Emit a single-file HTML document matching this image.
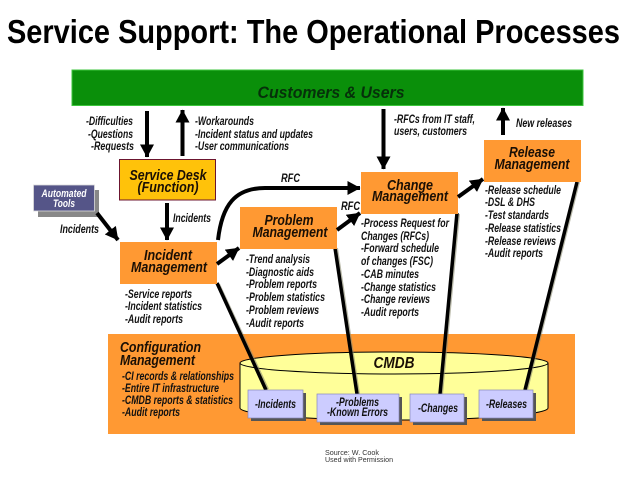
<!DOCTYPE html>
<html><head><meta charset="utf-8"><style>
html,body{margin:0;padding:0;background:#fff;width:638px;height:479px;overflow:hidden}
svg{display:block}
text{font-family:"Liberation Sans",sans-serif;fill:#000}
.t{font-weight:bold;font-style:italic;font-size:11.5px;fill:#111}
.h{font-weight:bold;font-style:italic;font-size:14.5px;text-anchor:middle;fill:#1a0f05}
</style></head><body>
<svg width="638" height="479" viewBox="0 0 638 479" xmlns="http://www.w3.org/2000/svg">
<defs>
<marker id="a" markerUnits="userSpaceOnUse" markerWidth="14" markerHeight="14" refX="12.5" refY="7" orient="auto"><path d="M0 0L13 7L0 14z" fill="#000"/></marker>
</defs>
<text x="7" y="43" font-size="33" font-weight="bold" textLength="613" lengthAdjust="spacingAndGlyphs">Service Support: The Operational Processes</text>
<rect x="72" y="70" width="511" height="35.500" fill="#0a8f0a" stroke="#3cc63c" stroke-width="1"/>
<text class="h" x="331" y="98" textLength="147" lengthAdjust="spacingAndGlyphs" style="font-size:17px;fill:#06300a">Customers &amp; Users</text>

<!-- config panel -->
<rect x="108" y="334" width="467" height="100" fill="#ff9933"/>
<path d="M240 363V408C240 414 300 420 394 420C488 420 548 414 548 408V363" fill="#ffff99" stroke="#000" stroke-width="1"/>
<ellipse cx="394" cy="363" rx="154" ry="11" fill="#ffff99" stroke="#000" stroke-width="1"/>
<text class="h" x="394" y="368" textLength="41" lengthAdjust="spacingAndGlyphs" style="font-size:16px">CMDB</text>

<!-- connector shadows -->
<g stroke="#8a8a70" stroke-width="2" fill="none" opacity=".6">
<path d="M219 284L268 389"/><path d="M337 248L359 394"/><path d="M459 214L442 394"/><path d="M579 182L527 390"/>
</g>
<g stroke="#000" stroke-width="3.500" fill="none">
<path d="M217 283L266 390"/><path d="M335 248L357 394"/><path d="M457 213L440 394"/><path d="M577 182L525 390"/>
</g>

<!-- db boxes -->
<g fill="#555">
<rect x="251" y="393" width="55" height="28"/><rect x="320" y="397" width="82" height="28"/>
<rect x="413" y="397" width="54" height="28"/><rect x="482" y="393" width="54" height="28"/>
</g>
<g fill="#ccccff" stroke="#8888bb" stroke-width=".7">
<rect x="248" y="390" width="55" height="28"/><rect x="317" y="394" width="82" height="28"/>
<rect x="410" y="394" width="54" height="28"/><rect x="479" y="390" width="54" height="28"/>
</g>
<g class="x">
<text class="t" x="255" y="408" textLength="41" lengthAdjust="spacingAndGlyphs">-Incidents</text>
<text class="t" x="336" y="406" textLength="43" lengthAdjust="spacingAndGlyphs">-Problems</text>
<text class="t" x="327" y="416" textLength="61" lengthAdjust="spacingAndGlyphs">-Known Errors</text>
<text class="t" x="418" y="412" textLength="40" lengthAdjust="spacingAndGlyphs">-Changes</text>
<text class="t" x="486" y="408" textLength="41" lengthAdjust="spacingAndGlyphs">-Releases</text>
</g>

<!-- automated tools -->
<rect x="38" y="190" width="61" height="27" fill="#888"/>
<rect x="33.500" y="185" width="61" height="26" fill="#555588" stroke="#ddd" stroke-width=".8"/>
<text class="t" x="64" y="197" text-anchor="middle" textLength="45" lengthAdjust="spacingAndGlyphs" style="fill:#fff;font-size:11px">Automated</text>
<text class="t" x="64" y="207" text-anchor="middle" textLength="22" lengthAdjust="spacingAndGlyphs" style="fill:#fff;font-size:11px">Tools</text>

<!-- process boxes -->
<rect x="119.500" y="159.500" width="96" height="40.500" fill="#ffc20a" stroke="#6b1530" stroke-width="1"/>
<text class="h" x="168" y="180" textLength="77" lengthAdjust="spacingAndGlyphs">Service Desk</text>
<text class="h" x="168" y="192" textLength="61" lengthAdjust="spacingAndGlyphs">(Function)</text>
<g fill="#ff9933">
<rect x="120" y="242" width="97" height="42"/><rect x="240" y="207" width="97" height="42"/>
<rect x="361" y="172" width="97" height="42"/><rect x="484" y="140" width="97" height="42"/>
</g>
<text class="h" x="168" y="260" textLength="48" lengthAdjust="spacingAndGlyphs">Incident</text>
<text class="h" x="169" y="272" textLength="76" lengthAdjust="spacingAndGlyphs">Management</text>
<text class="h" x="289" y="225" textLength="49" lengthAdjust="spacingAndGlyphs">Problem</text>
<text class="h" x="290" y="237" textLength="75" lengthAdjust="spacingAndGlyphs">Management</text>
<text class="h" x="410" y="190" textLength="46" lengthAdjust="spacingAndGlyphs">Change</text>
<text class="h" x="410" y="201" textLength="76" lengthAdjust="spacingAndGlyphs">Management</text>
<text class="h" x="532" y="157" textLength="46" lengthAdjust="spacingAndGlyphs">Release</text>
<text class="h" x="532" y="169" textLength="75" lengthAdjust="spacingAndGlyphs">Management</text>

<!-- arrows -->
<g stroke="#000" stroke-width="4" fill="none" marker-end="url(#a)">
<path d="M147 111V157"/><path d="M182.500 156V110"/><path d="M167 203V240"/>
<path d="M97 213L118 240"/><path d="M383.500 109V169"/><path d="M503 135V108"/>
<path d="M458 197L483 179"/><path d="M337 230L360 213"/><path d="M217 264L239 248"/>
<path d="M218 240C222 205 235 188 265 188H360"/>
</g>

<!-- labels -->
<text class="t" x="86" y="125" textLength="47" lengthAdjust="spacingAndGlyphs">-Difficulties</text>
<text class="t" x="88" y="138" textLength="45" lengthAdjust="spacingAndGlyphs">-Questions</text>
<text class="t" x="91" y="150" textLength="43" lengthAdjust="spacingAndGlyphs">-Requests</text>
<text class="t" x="195" y="125" textLength="59" lengthAdjust="spacingAndGlyphs">-Workarounds</text>
<text class="t" x="195" y="138" textLength="118" lengthAdjust="spacingAndGlyphs">-Incident status and updates</text>
<text class="t" x="195" y="150" textLength="94" lengthAdjust="spacingAndGlyphs">-User communications</text>
<text class="t" x="394" y="123" textLength="81" lengthAdjust="spacingAndGlyphs">-RFCs from IT staff,</text>
<text class="t" x="394" y="135" textLength="73" lengthAdjust="spacingAndGlyphs">users, customers</text>
<text class="t" x="516" y="127" textLength="56" lengthAdjust="spacingAndGlyphs">New releases</text>
<text class="t" x="281" y="182" textLength="19" lengthAdjust="spacingAndGlyphs">RFC</text>
<text class="t" x="341" y="210" textLength="19" lengthAdjust="spacingAndGlyphs">RFC</text>
<text class="t" x="173" y="222" textLength="38" lengthAdjust="spacingAndGlyphs">Incidents</text>
<text class="t" x="60" y="233" textLength="39" lengthAdjust="spacingAndGlyphs">Incidents</text>

<text class="t" x="125" y="298" textLength="67" lengthAdjust="spacingAndGlyphs">-Service reports</text>
<text class="t" x="125" y="310" textLength="77" lengthAdjust="spacingAndGlyphs">-Incident statistics</text>
<text class="t" x="125" y="323" textLength="58" lengthAdjust="spacingAndGlyphs">-Audit reports</text>

<text class="t" x="246" y="263" textLength="64" lengthAdjust="spacingAndGlyphs">-Trend analysis</text>
<text class="t" x="246" y="276" textLength="68" lengthAdjust="spacingAndGlyphs">-Diagnostic aids</text>
<text class="t" x="246" y="288" textLength="71" lengthAdjust="spacingAndGlyphs">-Problem reports</text>
<text class="t" x="246" y="301" textLength="79" lengthAdjust="spacingAndGlyphs">-Problem statistics</text>
<text class="t" x="246" y="314" textLength="73" lengthAdjust="spacingAndGlyphs">-Problem reviews</text>
<text class="t" x="246" y="327" textLength="58" lengthAdjust="spacingAndGlyphs">-Audit reports</text>

<text class="t" x="361" y="227" textLength="88" lengthAdjust="spacingAndGlyphs">-Process Request for</text>
<text class="t" x="361" y="240" textLength="68" lengthAdjust="spacingAndGlyphs">Changes (RFCs)</text>
<text class="t" x="361" y="252" textLength="78" lengthAdjust="spacingAndGlyphs">-Forward schedule</text>
<text class="t" x="361" y="265" textLength="72" lengthAdjust="spacingAndGlyphs">of changes (FSC)</text>
<text class="t" x="361" y="278" textLength="58" lengthAdjust="spacingAndGlyphs">-CAB minutes</text>
<text class="t" x="361" y="291" textLength="75" lengthAdjust="spacingAndGlyphs">-Change statistics</text>
<text class="t" x="361" y="303" textLength="69" lengthAdjust="spacingAndGlyphs">-Change reviews</text>
<text class="t" x="361" y="316" textLength="58" lengthAdjust="spacingAndGlyphs">-Audit reports</text>

<text class="t" x="485" y="194" textLength="76" lengthAdjust="spacingAndGlyphs">-Release schedule</text>
<text class="t" x="485" y="206" textLength="50" lengthAdjust="spacingAndGlyphs">-DSL &amp; DHS</text>
<text class="t" x="485" y="219" textLength="64" lengthAdjust="spacingAndGlyphs">-Test standards</text>
<text class="t" x="485" y="232" textLength="76" lengthAdjust="spacingAndGlyphs">-Release statistics</text>
<text class="t" x="485" y="245" textLength="71" lengthAdjust="spacingAndGlyphs">-Release reviews</text>
<text class="t" x="485" y="257" textLength="58" lengthAdjust="spacingAndGlyphs">-Audit reports</text>

<text class="h" x="120" y="352" textLength="81" lengthAdjust="spacingAndGlyphs" style="text-anchor:start">Configuration</text>
<text class="h" x="120" y="365" textLength="75" lengthAdjust="spacingAndGlyphs" style="text-anchor:start">Management</text>
<text class="t" x="122" y="380" textLength="112" lengthAdjust="spacingAndGlyphs">-CI records &amp; relationships</text>
<text class="t" x="122" y="392" textLength="97" lengthAdjust="spacingAndGlyphs">-Entire IT infrastructure</text>
<text class="t" x="122" y="404" textLength="111" lengthAdjust="spacingAndGlyphs">-CMDB reports &amp; statistics</text>
<text class="t" x="122" y="416" textLength="58" lengthAdjust="spacingAndGlyphs">-Audit reports</text>

<text x="325" y="455" font-size="7.500" textLength="54" lengthAdjust="spacingAndGlyphs" style="fill:#333">Source: W. Cook</text>
<text x="325" y="462" font-size="7.500" textLength="68" lengthAdjust="spacingAndGlyphs" style="fill:#333">Used with Permission</text>
</svg>
</body></html>
